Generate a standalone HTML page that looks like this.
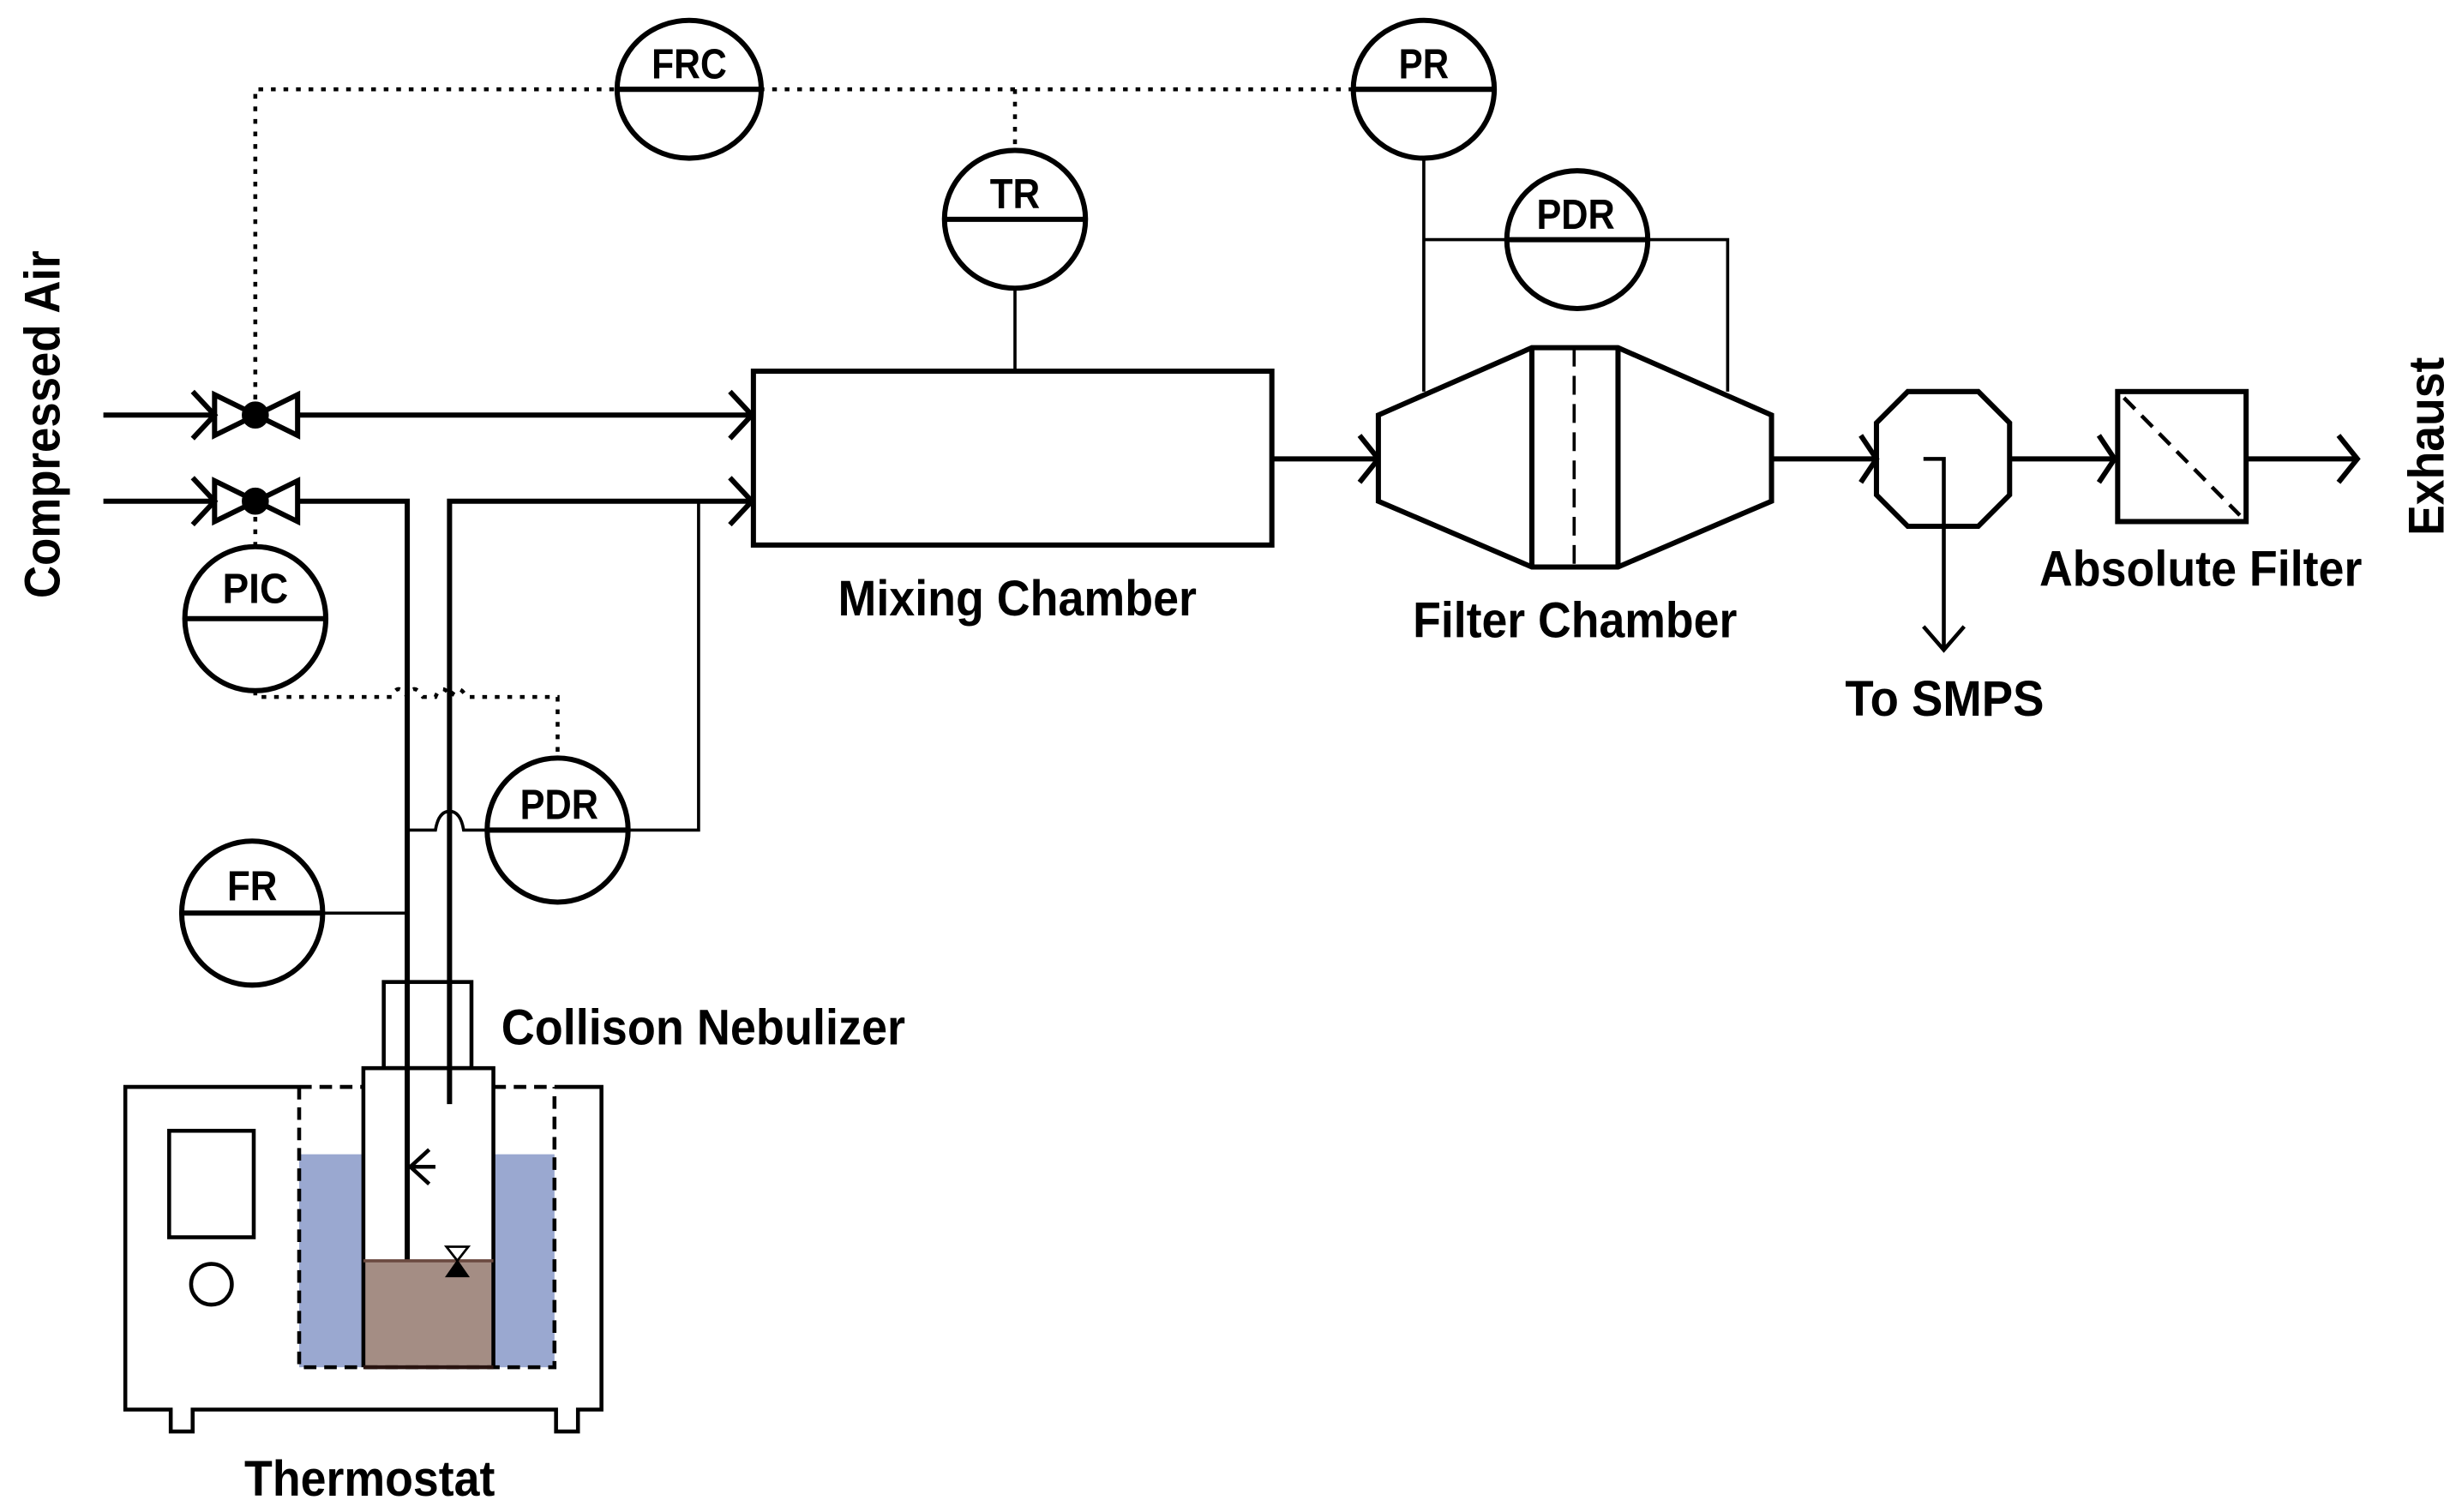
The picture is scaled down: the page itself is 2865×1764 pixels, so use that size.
<!DOCTYPE html>
<html><head><style>html,body{margin:0;padding:0;background:#fff}svg{display:block}
text{font-family:"Liberation Sans",Arial,sans-serif;font-weight:bold;fill:#000}</style></head>
<body>
<svg width="2865" height="1764" viewBox="0 0 1568 965.4" xmlns="http://www.w3.org/2000/svg">
<g fill="none" stroke="#000" stroke-width="3.3">
<!-- dotted control lines -->
<g stroke-dasharray="3,5" stroke-width="2.5">
<path d="M163,263 V57 H866"/>
<path d="M648,57 V96"/>
<path d="M163,330 V350"/>
<path d="M163,441 V445 H250 q4,-10 10,0 q4,-10 10,0 H278 q4,-10 10,0 q4,-10 10,0 H356 V484"/>
</g>
<!-- instrument circles -->
<g>
<ellipse cx="440" cy="57" rx="46" ry="44" fill="#fff"/><path d="M394,57 H486"/>
<ellipse cx="909" cy="57" rx="45" ry="44" fill="#fff"/><path d="M864,57 H954"/>
<ellipse cx="648" cy="140" rx="45" ry="44"/><path d="M603,140 H693"/>
<ellipse cx="1007" cy="153" rx="45" ry="44"/><path d="M962,153 H1052"/>
<ellipse cx="163" cy="395" rx="45" ry="46"/><path d="M118,395 H208"/>
<ellipse cx="356" cy="530" rx="45" ry="46"/><path d="M311,530 H401"/>
<ellipse cx="161" cy="583" rx="45" ry="46"/><path d="M116,583 H206"/>
</g>
<!-- thin lines -->
<g stroke-width="2">
<path d="M648,184 V237"/>
<path d="M909,101 V250"/>
<path d="M909,153 H962 M1052,153 H1103 V250"/>
<path d="M446,320 V530 H401"/>
<path d="M311,530 H296 q-2,-12 -9,-12 q-7,0 -9,12 H260"/>
<path d="M206,583 H260"/>
</g>
<!-- valves and inlet -->
<path d="M66,265 H137 M123,250 L137,265 L123,280"/>
<path d="M66,320 H137 M123,305 L137,320 L123,335"/>
<path d="M137,252 L190,278 V252 L137,278 Z"/>
<path d="M137,307 L190,333 V307 L137,333 Z"/>
<circle cx="163" cy="265" r="7" fill="#000"/>
<circle cx="163" cy="320" r="7" fill="#000"/>
<path d="M190,265 H480 M466,250 L480,265 L466,280"/>
<path d="M190,320 H260 V845"/>
<path d="M287,705 V320 H480 M466,305 L480,320 L466,335"/>
<!-- mixing chamber -->
<rect x="481" y="237" width="331" height="111"/>
<path d="M812,293 H880 M868,278 L880,293 L868,308"/>
<!-- filter chamber -->
<path d="M880,265 L978,222 H1033 L1131,265 V320 L1033,362 H978 L880,320 Z" fill="#fff"/>
<path d="M978,222 V362 M1033,222 V362"/>
<path d="M1005,222 V362" stroke-dasharray="12,6" stroke-width="2"/>
<path d="M1131,293 H1198 M1188,278 L1198,293 L1188,308"/>
<!-- SMPS octagon -->
<path d="M1218,250 H1263 L1283,270 V316 L1263,336 H1218 L1198,316 V270 Z"/>
<path d="M1228,293 H1241 V415 M1228,400 L1241,415 L1254,400" stroke-width="2.5"/>
<path d="M1283,293 H1350 M1340,278 L1350,293 L1340,308"/>
<!-- absolute filter -->
<rect x="1352" y="250" width="82" height="83"/>
<path d="M1356,254 L1430,329" stroke-dasharray="10,6" stroke-width="2.5"/>
<path d="M1434,293 H1505 M1493,278 L1505,293 L1493,308"/>
<!-- thermostat -->
<rect x="191" y="737" width="41" height="136" fill="#9aa8d0" stroke="none"/>
<rect x="315" y="737" width="39" height="136" fill="#9aa8d0" stroke="none"/>
<rect x="232" y="805" width="83" height="68" fill="#a48d84" stroke="none"/>
<path d="M191,694 H80 V900 H109 V914 H123 V900 H355 V914 H369 V900 H384 V694 H354" stroke-width="2.5"/>
<path d="M191,694 H232 M315,694 H354 M191,694 V873 H354 V694" stroke-dasharray="8,5" stroke-width="2.5"/>
<rect x="108" y="722" width="54" height="68" stroke-width="2.5"/>
<circle cx="135" cy="820" r="13" stroke-width="2.5"/>
<rect x="245" y="627" width="56" height="55" stroke-width="2.5"/>
<path d="M232,873 V682 H315 V873" stroke-width="2.5"/>
<path d="M232,873 H315" stroke="#2a1410" stroke-width="2.5"/>
<path d="M232,805 H315" stroke="#6b4a40" stroke-width="2"/>
<path d="M274,734 L262,745 L274,756 M262,745 H278" stroke-width="2.5"/>
<path d="M285,796 H299 L292,805 Z" stroke-width="1.5" fill="#fff"/>
<path d="M292,805 L285,815 H299 Z" fill="#000" stroke-width="1"/>
</g>
<!-- labels -->
<g font-size="27" text-anchor="middle">
<text x="440" y="50" textLength="48" lengthAdjust="spacingAndGlyphs">FRC</text>
<text x="909" y="50" textLength="32" lengthAdjust="spacingAndGlyphs">PR</text>
<text x="648" y="133" textLength="32" lengthAdjust="spacingAndGlyphs">TR</text>
<text x="1006" y="146" textLength="50" lengthAdjust="spacingAndGlyphs">PDR</text>
<text x="163" y="385" textLength="42" lengthAdjust="spacingAndGlyphs">PIC</text>
<text x="357" y="523" textLength="50" lengthAdjust="spacingAndGlyphs">PDR</text>
<text x="161" y="575" textLength="32" lengthAdjust="spacingAndGlyphs">FR</text>
</g>
<g font-size="32">
<text x="535" y="393" textLength="229" lengthAdjust="spacingAndGlyphs">Mixing Chamber</text>
<text x="902" y="407" textLength="207" lengthAdjust="spacingAndGlyphs">Filter Chamber</text>
<text x="1178" y="457" textLength="127" lengthAdjust="spacingAndGlyphs">To SMPS</text>
<text x="1302" y="374" textLength="206" lengthAdjust="spacingAndGlyphs">Absolute Filter</text>
<text x="320" y="667" textLength="258" lengthAdjust="spacingAndGlyphs">Collison Nebulizer</text>
<text x="156" y="955" textLength="160" lengthAdjust="spacingAndGlyphs">Thermostat</text>
<text transform="translate(38,382) rotate(-90)" textLength="222" lengthAdjust="spacingAndGlyphs">Compressed Air</text>
<text transform="translate(1560,342) rotate(-90)" textLength="114" lengthAdjust="spacingAndGlyphs">Exhaust</text>
</g>
</svg>
</body></html>
